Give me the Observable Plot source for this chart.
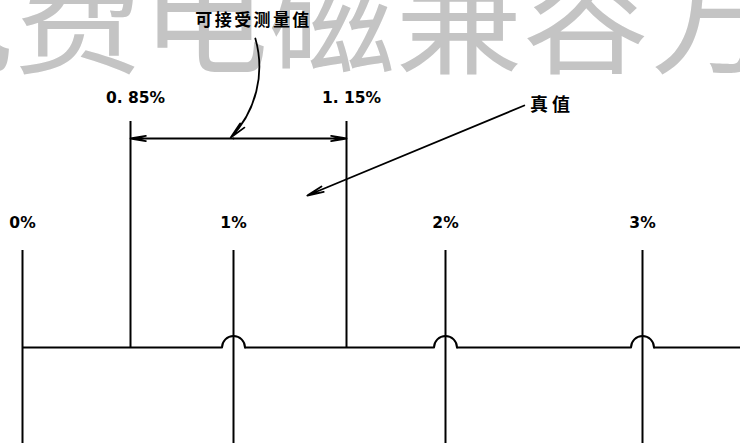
<!DOCTYPE html>
<html><head><meta charset="utf-8">
<script src="https://cdn.jsdelivr.net/npm/d3@7"></script>
<script src="https://cdn.jsdelivr.net/npm/@observablehq/plot@0.6"></script>
<style>body{margin:0;background:#fff} svg{display:block}</style>
</head><body><div id="chart"></div>
<script>
// Scale ticks (percent) and their labels
const majorTicks = [0, 1, 2, 3];
const majorLabels = ["0%", "1%", "2%", "3%"];
// Acceptance limits around the true value 1%
const limitTicks = [0.85, 1.15];
const limitLabels = ["0. 85%", "1. 15%"];
// Ticks where the baseline hops over the vertical line
const hopTicks = [1, 2, 3];
// Annotations
const watermark = ["免费电磁兼容方"];
const acceptText = ["可接受测量值"];
const acceptTextAt = [{x: 1.025, y: 327}];
const acceptArrow = [{x1: 1.029, y1: 309, x2: 0.996, y2: 210}];
const trueText = ["真值"];
const trueTextAt = [{x: 2.53, y: 242}];
const trueArrow = [{x1: 2.40, y1: 242, x2: 1.098, y2: 152}];
const spanY = 209;

// diagram is not to scale: piecewise x scale
const xDomain = [0, 0.85, 1, 1.15, 2, 3];
const xRange = [22, 130, 233, 346, 445, 642];
const xs = d3.scaleLinear(xDomain, xRange);
const hopR = 11.5;
const hops = hopTicks.map(t => ({x1: xs.invert(xs(t) - hopR), x2: xs.invert(xs(t) + hopR)}));
const cuts = [0, ...hops.flatMap(h => [h.x1, h.x2]), 3.5];
const segments = d3.range(0, cuts.length, 2).map(i => ({x1: cuts[i], x2: cuts[i + 1]}));
const spanMid = d3.mean(limitTicks);

const plot = Plot.plot({
  width: 740, height: 443, margin: 0,
  x: {type: "linear", domain: xDomain, range: xRange, axis: null},
  y: {type: "linear", domain: [-96, 347], range: [443, 0], axis: null},
  style: {background: "#fff"},
  marks: [
    Plot.text(watermark, {text: d => d, frameAnchor: "top-left", textAnchor: "start", lineAnchor: "bottom", dx: -113, dy: 63, fontSize: 127, fill: "#c4c4c4", fontFamily: "Noto Sans CJK SC"}),
    Plot.ruleY(segments, {y: 0, x1: "x1", x2: "x2", stroke: "#000", strokeWidth: 2}),
    Plot.arrow(hops, {x1: "x1", x2: "x2", y1: 0, y2: 0, bend: 90, headLength: 0, stroke: "#000", strokeWidth: 2}),
    Plot.ruleX(majorTicks, {x: d => d, y1: -96, y2: 97, stroke: "#000", strokeWidth: 2}),
    Plot.text(majorTicks, {x: d => d, y: 124, text: (d, i) => majorLabels[i], fontSize: 15.5, fontWeight: "bold", fontFamily: "DejaVu Sans", fill: "#000"}),
    Plot.ruleX(limitTicks, {x: d => d, y1: 0, y2: 226, stroke: "#000", strokeWidth: 2}),
    Plot.text(limitTicks, {x: d => d, y: 249, dx: 5, text: (d, i) => limitLabels[i], fontSize: 15.5, fontWeight: "bold", fontFamily: "DejaVu Sans", fill: "#000"}),
    Plot.arrow(limitTicks, {x1: () => spanMid, x2: d => d, y1: spanY, y2: spanY, headLength: 13, headAngle: 20, stroke: "#000", strokeWidth: 1.8}),
    Plot.arrow(acceptArrow, {x1: "x1", y1: "y1", x2: "x2", y2: "y2", bend: 30, headLength: 14, headAngle: 20, stroke: "#000", strokeWidth: 1.8}),
    Plot.text(acceptTextAt, {x: "x", y: "y", text: (d, i) => acceptText[i], className: "cjk-accept", fontSize: 17, fontWeight: "bold", fontFamily: "Noto Sans CJK SC", fill: "#000"}),
    Plot.arrow(trueArrow, {x1: "x1", y1: "y1", x2: "x2", y2: "y2", headLength: 14, headAngle: 20, stroke: "#000", strokeWidth: 1.8}),
    Plot.text(trueTextAt, {x: "x", y: "y", text: (d, i) => trueText[i], className: "cjk-true", fontSize: 18, fontWeight: "bold", fontFamily: "Noto Sans CJK SC", fill: "#000"})
  ]
});
d3.select(plot).selectAll(".cjk-accept text").attr("letter-spacing", "2.4px").attr("dx", "1.2px");
d3.select(plot).selectAll(".cjk-true text").attr("letter-spacing", "4px").attr("dx", "2px");
document.getElementById("chart").append(plot);
</script>
</body></html>
